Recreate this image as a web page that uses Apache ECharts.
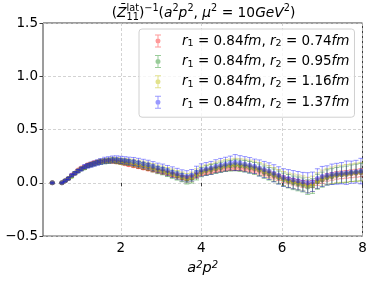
<!DOCTYPE html>
<html><head><meta charset="utf-8">
<script src="https://cdn.jsdelivr.net/npm/echarts@6/dist/echarts.min.js"></script>
<style>html,body{margin:0;padding:0;background:#fff}#c{width:373px;height:281px}</style>
</head><body><div id="c"></div>
<script>
// ---- data ----
const xs = [0.30,0.54,0.62,0.70,0.78,0.86,0.94,1.02,1.10,1.18,1.26,1.34,1.42,1.50,1.60,1.70,1.80,1.90,2.00,2.10,2.20,
  2.32,2.44,2.56,2.68,2.80,2.92,3.04,3.16,3.28,3.40,3.52,3.64,3.76,3.88,4.00,4.12,4.24,4.36,4.48,4.60,4.72,4.84,4.96,
  5.08,5.20,5.32,5.44,5.56,5.68,5.80,5.92,6.04,6.16,6.28,6.40,6.52,6.64,6.76,6.88,7.00,7.12,7.24,7.36,7.48,7.60,7.72,7.84,7.96];

const yRed = [0.00,0.00,0.02,0.04,0.07,0.09,0.12,0.14,0.15,0.17,0.18,0.19,0.195,0.20,0.205,0.205,0.20,0.195,0.19,0.18,0.17,
  0.16,0.15,0.14,0.13,0.12,0.11,0.10,0.09,0.075,0.065,0.05,0.04,0.05,0.07,0.09,0.10,0.11,0.12,0.13,0.135,0.14,0.14,0.14,
  0.135,0.13,0.12,0.11,0.095,0.08,0.065,0.05,0.035,0.02,0.01,0.0,-0.01,-0.015,-0.01,0.01,0.03,0.05,0.06,0.07,0.075,0.08,0.085,0.09,0.095];
const eRed = [.003,.003,.004,.005,.005,.006,.006,.007,.008,.008,.009,.009,.01,.01,.011,.011,.012,.012,.013,.013,
  .014,.014,.015,.015,.016,.016,.017,.017,.018,.018,.019,.019,.02,.02,.021,.021,.022,.022,.023,.023,
  .024,.024,.025,.025,.026,.026,.027,.027,.028,.028,.029,.029,.03,.03,.031,.031,.032,.032,.033,.033,
  .034,.034,.035,.035,.036,.036,.037,.037,.038];

const yGreen = [0.00,0.00,0.02,0.04,0.06,0.09,0.11,0.13,0.14,0.16,0.17,0.18,0.19,0.195,0.20,0.205,0.21,0.205,0.20,0.195,0.19,
  0.18,0.17,0.16,0.15,0.135,0.12,0.11,0.095,0.08,0.065,0.05,0.03,0.04,0.07,0.10,0.115,0.125,0.135,0.145,0.155,0.16,0.165,0.16,
  0.155,0.145,0.135,0.12,0.10,0.085,0.07,0.05,0.03,0.015,0.0,-0.01,-0.02,-0.04,-0.03,0.01,0.03,0.05,0.06,0.07,0.075,0.08,0.09,0.095,0.10];
const eGreen = [.004,.004,.006,.008,.009,.011,.012,.014,.015,.017,.018,.019,.02,.021,.022,.023,.024,.025,.026,.026,
  .027,.029,.03,.031,.032,.033,.034,.035,.036,.038,.039,.04,.041,.042,.043,.044,.045,.046,.047,.048,
  .049,.05,.052,.053,.054,.055,.056,.057,.058,.059,.06,.061,.062,.063,.064,.065,.066,.068,.069,.07,
  .071,.072,.073,.074,.075,.077,.078,.08,.082];

const yYellow = [0.00,0.00,0.02,0.04,0.065,0.09,0.11,0.13,0.145,0.16,0.17,0.18,0.19,0.20,0.205,0.21,0.215,0.21,0.205,0.20,0.195,
  0.19,0.18,0.17,0.16,0.145,0.13,0.12,0.105,0.09,0.075,0.06,0.045,0.055,0.085,0.11,0.12,0.13,0.145,0.155,0.165,0.17,0.175,0.17,
  0.165,0.155,0.145,0.13,0.115,0.10,0.08,0.06,0.04,0.025,0.015,0.005,-0.005,-0.02,-0.01,0.02,0.045,0.06,0.07,0.08,0.085,0.09,0.095,0.10,0.105];
const eYellow = [.004,.005,.007,.008,.01,.012,.013,.015,.016,.018,.019,.02,.021,.022,.023,.024,.025,.026,.027,.028,
  .029,.031,.032,.033,.034,.035,.036,.037,.039,.04,.041,.042,.043,.045,.046,.047,.048,.049,.05,.051,
  .052,.053,.055,.056,.057,.058,.059,.06,.061,.062,.064,.065,.066,.067,.068,.069,.07,.072,.073,.074,
  .075,.076,.078,.079,.08,.082,.083,.085,.087];

const yBlue = [0.00,0.00,0.02,0.04,0.07,0.09,0.11,0.13,0.15,0.16,0.17,0.18,0.19,0.20,0.21,0.215,0.22,0.22,0.215,0.21,0.205,
  0.20,0.19,0.18,0.17,0.155,0.14,0.13,0.115,0.10,0.085,0.07,0.06,0.07,0.10,0.12,0.13,0.14,0.155,0.165,0.175,0.185,0.19,0.185,
  0.175,0.165,0.155,0.14,0.125,0.11,0.09,0.07,0.05,0.04,0.03,0.02,0.01,0.00,0.01,0.04,0.06,0.07,0.08,0.085,0.09,0.095,0.10,0.105,0.11];
const eBlue = [.005,.005,.008,.01,.012,.014,.016,.018,.02,.022,.024,.025,.026,.028,.03,.03,.032,.033,.034,.035,
  .036,.038,.04,.041,.042,.044,.045,.046,.048,.05,.051,.052,.054,.055,.056,.058,.06,.061,.062,.064,
  .065,.066,.075,.07,.071,.072,.068,.075,.076,.078,.08,.081,.082,.084,.085,.086,.088,.095,.091,.092,
  .094,.09,.096,.098,.10,.11,.104,.106,.12];

const seriesNames = ['r1 = 0.84fm, r2 = 0.74fm','r1 = 0.84fm, r2 = 0.95fm','r1 = 0.84fm, r2 = 1.16fm','r1 = 0.84fm, r2 = 1.37fm'];
const r1Vals = ['0.84','0.84','0.84','0.84'];
const r2Vals = ['0.74','0.95','1.16','1.37'];
const seriesColors = ['rgba(255,0,0,0.4)','rgba(0,128,0,0.4)','rgba(191,191,0,0.45)','rgba(0,0,255,0.4)'];
const yTicks = [-0.5,0,0.5,1.0,1.5];
const xTicks = [2,4,6,8];

const yAll = [yRed,yGreen,yYellow,yBlue];
const eAll = [eRed,eGreen,eYellow,eBlue];

const FONT = '"DejaVu Sans", sans-serif';
const chart = echarts.init(document.getElementById('c'), null, {renderer:'canvas'});

function makeRender(col){
  return function(params, api){
    const x = api.value(0), y = api.value(1), e = api.value(2);
    const p = api.coord([x,y]);
    const lo = api.coord([x,y-e]);
    const hi = api.coord([x,y+e]);
    const cw = 2.5;
    const ls = {stroke:col, lineWidth:1, fill:null};
    return {type:'group', children:[
      {type:'line', shape:{x1:p[0],y1:lo[1],x2:p[0],y2:hi[1]}, style:ls},
      {type:'line', shape:{x1:p[0]-cw,y1:lo[1],x2:p[0]+cw,y2:lo[1]}, style:ls},
      {type:'line', shape:{x1:p[0]-cw,y1:hi[1],x2:p[0]+cw,y2:hi[1]}, style:ls},
      {type:'circle', shape:{cx:p[0],cy:p[1],r:2.5}, style:{fill:col, stroke:null}}
    ]};
  };
}

const series = seriesNames.map((nm,k)=>({
  name:nm, type:'custom', renderItem:makeRender(seriesColors[k]),
  data: xs.map((x,i)=>[x, yAll[k][i], eAll[k][i]]),
  encode:{x:0,y:1}, itemStyle:{color:seriesColors[k]}, clip:true, z:2+k
}));

const ebIcon = 'path://M0,0H6V1H0Z M2.5,1H3.5V12H2.5Z M0,12H6V13H0Z M3,4A2.5,2.5,0,1,1,2.999,4Z';

// title built from measured text pieces
const mctx = document.createElement('canvas').getContext('2d');
function w(t, sz, it){ mctx.font = (it?'italic ':'') + sz + 'px ' + FONT; return mctx.measureText(t).width; }
const TS = 13.8, ts = 9.7;
const tpieces = [
 {t:'(', sz:TS},{t:'Z\u0304', sz:TS, it:true},{t:'lat', sz:ts, dy:-5, noAdv:true},{t:'11', sz:ts, dy:4},
 {t:')', sz:TS},{t:'\u22121', sz:ts, dy:-5},{t:'(', sz:TS},{t:'a', sz:TS, it:true},{t:'2', sz:ts, dy:-5},
 {t:'p', sz:TS, it:true},{t:'2', sz:ts, dy:-5},{t:', ', sz:TS},{t:'\u03bc', sz:TS, it:true},{t:'2', sz:ts, dy:-5},
 {t:' = 10', sz:TS},{t:'GeV', sz:TS, it:true},{t:'2', sz:ts, dy:-5},{t:')', sz:TS}
];
let xcur = 0, pend = 0; const placed = [];
tpieces.forEach(p=>{
  const ww = w(p.t,p.sz,p.it);
  placed.push({p, x:xcur});
  if (p.noAdv) { pend = ww; } else { xcur += Math.max(ww,pend); pend = 0; }
});
const tCenter = 203.5, tY = 13;
const x0 = tCenter - xcur/2;
const titleEls = placed.map(o=>({type:'text', x:x0+o.x, y:tY+(o.p.dy||0),
  style:{text:o.p.t, fontSize:o.p.sz, fontStyle:o.p.it?'italic':'normal', fontFamily:FONT, fill:'#000', verticalAlign:'middle', align:'left'}}));

chart.setOption({
  animation:false,
  grid:{left:43, top:23, right:10.5, bottom:43, show:true, borderColor:'#3a3a3a', borderWidth:1, backgroundColor:'transparent', containLabel:false},
  xAxis:{type:'value', min:0.07, max:8,
    axisLine:{show:false},
    axisTick:{show:true, length:3.5, lineStyle:{color:'#3a3a3a'}, customValues:xTicks},
    axisLabel:{customValues:xTicks, fontSize:13.5, fontFamily:FONT, color:'#000', margin:5, formatter:v=>String(v)},
    splitLine:{show:true, lineStyle:{color:'#c8c8c8', type:[3,2], width:0.8}},
    name:'{i|a}{u|2}{i|p}{u|2}', nameLocation:'middle', nameGap:17,
    nameTextStyle:{fontSize:14, fontStyle:'italic', fontFamily:FONT, color:'#000',
      rich:{ i:{fontSize:14.5, fontStyle:'italic', fontFamily:FONT, lineHeight:17},
             u:{fontSize:10, fontFamily:FONT, lineHeight:11, verticalAlign:'top'} }}
  },
  yAxis:{type:'value', min:yTicks[0], max:yTicks[yTicks.length-1], interval:0.5,
    axisLine:{show:false},
    axisTick:{show:true, length:3.5, lineStyle:{color:'#3a3a3a'}},
    axisLabel:{fontSize:13.5, fontFamily:FONT, color:'#000', margin:5,
      formatter:v=> (v<0?'\u2212':'') + Math.abs(v).toFixed(1)},
    splitLine:{show:true, lineStyle:{color:'#c8c8c8', type:[3,2], width:0.8}}
  },
  legend:{left:139, top:29, orient:'vertical', selectedMode:false,
    padding:[4,5,7,16], itemGap:4.4, itemWidth:38, itemHeight:13,
    backgroundColor:'rgba(255,255,255,0.8)', borderColor:'#d0d0d0', borderWidth:1, borderRadius:3,
    data: seriesNames.map((nm,k)=>({name:nm, icon:ebIcon, itemStyle:{color:seriesColors[k], borderWidth:0}})),
    formatter: nm=>{ const k = seriesNames.indexOf(nm);
      return '{i|r}{s|1}{n| = '+r1Vals[k]+'}{i|fm}{n|, }{i|r}{s|2}{n| = '+r2Vals[k]+'}{i|fm}'; },
    textStyle:{fontSize:13.5, fontFamily:FONT, color:'#000', lineHeight:16,
      rich:{
        n:{fontSize:13.5, fontFamily:FONT, lineHeight:16},
        i:{fontSize:13.5, fontFamily:FONT, fontStyle:'italic', lineHeight:16},
        s:{fontSize:9.5, fontFamily:FONT, lineHeight:10, verticalAlign:'bottom'}
      }}
  },
  graphic: titleEls,
  series: series
});
</script></body></html>
